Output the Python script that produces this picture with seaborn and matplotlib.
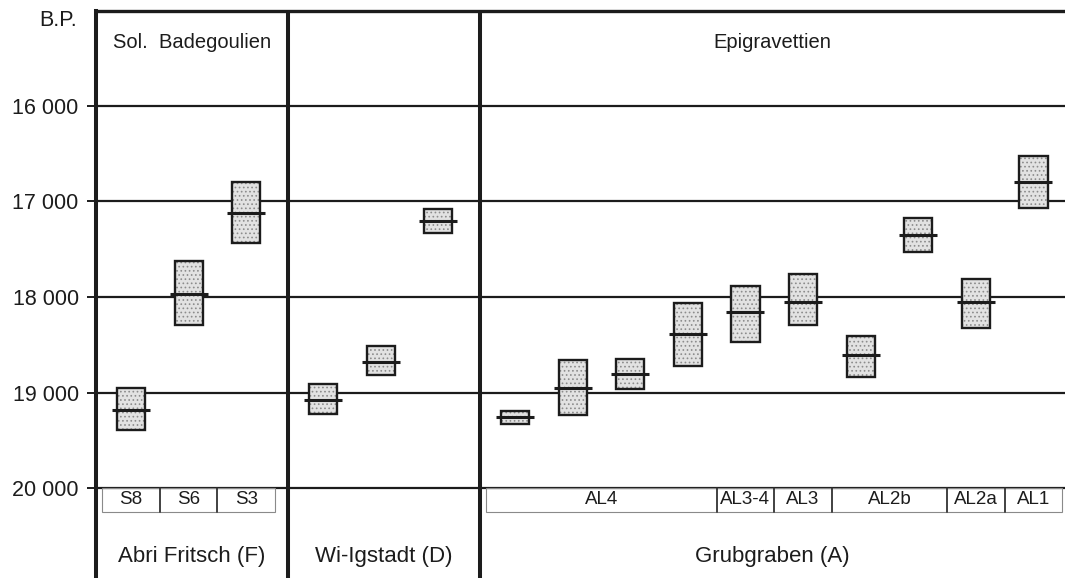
import matplotlib
matplotlib.use("Agg")
import matplotlib.pyplot as plt
from matplotlib.patches import Rectangle
import numpy as np
import seaborn as sns

# ---- data -------------------------------------------------------------
sites = ["Abri Fritsch (F)", "Wi-Igstadt (D)", "Grubgraben (A)"]
cultures = ["Sol.  Badegoulien", "", "Epigravettien"]

# age ranges (years B.P.): younger limit, older limit, central date
fritsch_young = [18950, 17625, 16800]
fritsch_old = [19390, 18290, 17435]
fritsch_mid = [19180, 17965, 17125]

igstadt_young = [18910, 18510, 17080]
igstadt_old = [19220, 18815, 17330]
igstadt_mid = [19075, 18680, 17205]

grub_young = [19190, 18660, 18650, 18065, 17885, 17760, 18405, 17175, 17810, 16525]
grub_old = [19325, 19230, 18960, 18720, 18470, 18290, 18835, 17530, 18325, 17070]
grub_mid = [19255, 18950, 18805, 18385, 18155, 18050, 18605, 17350, 18050, 16800]

# archaeological layers and how many dates each one holds
fritsch_layers = ["S8", "S6", "S3"]
fritsch_layer_n = [1, 1, 1]
igstadt_layers = []
igstadt_layer_n = []
grub_layers = ["AL4", "AL3-4", "AL3", "AL2b", "AL2a", "AL1"]
grub_layer_n = [4, 1, 1, 2, 1, 1]

y_ticks = [16000, 17000, 18000, 19000, 20000]
y_tick_labels = ["16 000", "17 000", "18 000", "19 000", "20 000"]

# ---- style ------------------------------------------------------------
sns.set_style("white")
plt.rcParams["font.family"] = ["Liberation Sans", "DejaVu Sans"]
plt.rcParams["hatch.linewidth"] = 0.7
INK = "#1c1c1c"

fig = plt.figure(figsize=(10.65, 5.78), dpi=100)
W, H = 1065, 578
ax = fig.add_axes([96 / W, 0, 969 / W, 567 / H])

group_width = 3.3333
x_max = 969 / 57.6
ax.set_xlim(0, x_max)
ax.set_ylim(20935, 15013)

young_all = [fritsch_young, igstadt_young, grub_young]
old_all = [fritsch_old, igstadt_old, grub_old]
mid_all = [fritsch_mid, igstadt_mid, grub_mid]
layers_all = [fritsch_layers, igstadt_layers, grub_layers]
layer_n_all = [fritsch_layer_n, igstadt_layer_n, grub_layer_n]

# horizontal reference lines
for t in y_ticks:
    ax.axhline(t, color=INK, lw=1.6, zorder=1)

# vertical group dividers
for g in range(1, len(sites)):
    ax.axvline(g * group_width, color=INK, lw=2.9, zorder=2)

box_w = 0.49
xs_all, mids_flat = [], []
for g in range(len(sites)):
    start = g * group_width
    n = len(mid_all[g])
    xs = start + 0.608 + np.arange(n)
    young = np.array(young_all[g])
    old = np.array(old_all[g])
    # stippled fill
    ax.bar(xs, old - young, bottom=young, width=box_w, color="#e2e2e2",
           hatch="....", edgecolor="#8c8c8c", linewidth=0, zorder=3)
    # outline
    ax.bar(xs, old - young, bottom=young, width=box_w, fill=False,
           edgecolor=INK, linewidth=1.7, zorder=4)
    xs_all.extend(xs)
    mids_flat.extend(mid_all[g])

    # layer strip under the 20 000 line
    if layers_all[g]:
        x0 = xs[0] - 0.5
        y0, y1 = 20000, 20245
        total = sum(layer_n_all[g])
        ax.add_patch(Rectangle((x0, y0), total, y1 - y0, fill=False,
                               edgecolor="#8a8a8a", lw=0.8, zorder=3))
        pos = x0
        for k, (lab, cnt) in enumerate(zip(layers_all[g], layer_n_all[g])):
            if k > 0:
                ax.plot([pos, pos], [y0, y1], color="#333333", lw=1.3, zorder=3)
            ax.text(pos + cnt / 2, 20118, lab, ha="center", va="center",
                    fontsize=13.5, color=INK)
            pos += cnt

    # site name and culture
    centre = start + group_width / 2 if g < len(sites) - 1 else (start + x_max) / 2
    ax.text(centre, 20710, sites[g], ha="center", va="center",
            fontsize=16, color=INK)
    if cultures[g]:
        ax.text(centre, 15345, cultures[g], ha="center", va="center",
                fontsize=14.5, color=INK)

# central dates
sns.scatterplot(x=xs_all, y=mids_flat, marker="_", s=730, color=INK,
                linewidth=2.2, ax=ax, zorder=5, legend=False)

# axes frame
for side in ["right", "bottom"]:
    ax.spines[side].set_visible(False)
ax.spines["top"].set_linewidth(2.4)
ax.spines["top"].set_color(INK)
ax.spines["left"].set_linewidth(2.9)
ax.spines["left"].set_color(INK)

ax.set_xticks([])
ax.set_yticks(y_ticks)
ax.set_yticklabels(y_tick_labels, fontsize=15.5, color=INK)
ax.tick_params(axis="y", length=6.5, width=1.4, pad=6, color=INK, left=True)
ax.set_xlabel("")
ax.set_ylabel("")

fig.text(77 / W, 1 - 20 / H, "B.P.", ha="right", va="center",
         fontsize=15.5, color=INK)

fig.savefig("out.png", dpi=100, facecolor="white")
